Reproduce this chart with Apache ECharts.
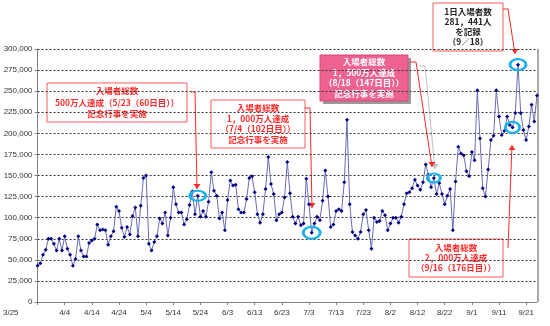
<!DOCTYPE html>
<html><head><meta charset="utf-8">
<script src="https://cdn.jsdelivr.net/npm/echarts@6/dist/echarts.min.js"></script>
<style>html,body{margin:0;padding:0;background:#fff}#c{width:550px;height:326px}</style>
</head><body><div id="c"></div>
<script>
// Expo 2005 daily visitors, 3/25 .. 9/25
const startMonth = 3, startDay = 25, dayCount = 185;
const monthLengths = {3:31,4:30,5:31,6:30,7:31,8:31,9:30};
const dates = [];
(function(){ let m = startMonth, d = startDay;
  for (let k = 0; k < dayCount; k++) { dates.push(m + '/' + d); d++; if (d > monthLengths[m]) { d = 1; m++; } } })();

const visitors = [
43000,46000,56000,62000,75000,75000,69000,61000,75000,61000,
78000,63000,56000,43000,51000,78000,61000,54000,54000,70000,
73000,75000,92000,85000,86000,85000,68000,78000,84000,113000,
108000,88000,77000,89000,80000,102000,112000,78000,114000,147000,
150000,69000,61000,71000,78000,99000,93000,106000,79000,100000,
136000,116000,106000,106000,92000,98000,115000,131000,104000,126000,
101000,108000,101000,119000,154000,132000,126000,99000,106000,85000,
121000,144000,138000,139000,110000,106000,106000,122000,147000,149000,
130000,104000,94000,104000,134000,172000,140000,128000,97000,104000,
106000,124000,166000,129000,101000,93000,101000,91000,93000,146000,
116000,82000,93000,101000,97000,120000,156000,125000,89000,92000,
108000,110000,108000,142000,216000,116000,83000,79000,75000,83000,
104000,109000,85000,63000,100000,95000,96000,108000,103000,85000,
93000,100000,100000,94000,101000,116000,129000,130000,135000,145000,
138000,133000,142000,163000,151000,136000,147000,128000,141000,128000,
116000,126000,134000,85000,143000,184000,176000,174000,155000,149000,
178000,168000,251000,194000,135000,125000,157000,192000,197000,251000,
220000,198000,203000,220000,210000,207000,224000,281441,224000,204000,
192000,208000,234000,214000,245000
];

const xTickLabels = ['3/25','4/4','4/14','4/24','5/4','5/14','5/24','6/3','6/13','6/23','7/3','7/13','7/23','8/2','8/12','8/22','9/1','9/11','9/21'];
const yTicks = [0,25000,50000,75000,100000,125000,150000,175000,200000,225000,250000,275000,300000];

// highlighted days (circled): 5/23, 7/4, 8/18, 9/16, 9/18
const highlightDates = ['5/23','7/4','8/18','9/16','9/18'];
const highlightSizes = [[16,10],[17,12],[13,9],[14,11],[16,11]];

const notes = {
  n1: ['入場者総数','500万人達成（5/23（60日目））','記念行事を実施'],
  n2: ['入場者総数','1，000万人達成','（7/4（102日目））','記念行事を実施'],
  n3: ['入場者総数','1，500万人達成','（8/18（147日目））','記念行事を実施'],
  n4: ['1日入場者数','281，441人','を記録','（9／18）'],
  n5: ['入場者総数','2，000万人達成','（9/16（176日目））']
};

const fmt = v => String(v).replace(/\B(?=(\d{3})+(?!\d))/g, ',');
const JP = '"Noto Sans CJK JP"';
const RED = '#ff2a2a';

function box(x, y, w, h, lines, lh, opt) {
  opt = opt || {};
  const ch = [];
  if (opt.shadow) ch.push({type:'rect', shape:{x:x+3,y:y+3,width:w,height:h}, style:{fill:'#9a9a9a'}});
  ch.push({type:'rect', shape:{x:x,y:y,width:w,height:h}, style:{fill:opt.fill||'#fff', stroke:opt.stroke||'#ff5a5a', lineWidth:1}});
  ch.push({type:'text', style:{text:lines.join('\n'), x:x+w/2, y:y+h/2, align:'center', verticalAlign:'middle',
    lineHeight:lh, fill:opt.color||RED, font:'bold 8.5px ' + JP}});
  return ch;
}
function arrow(points, color, dir) {
  const t = points[points.length-1];
  const tri = dir === 'up' ? [[t[0]-3.5,t[1]+5],[t[0]+3.5,t[1]+5],[t[0],t[1]]] : [[t[0]-3.5,t[1]-5],[t[0]+3.5,t[1]-5],[t[0],t[1]]];
  return [
    {type:'polyline', shape:{points:points}, style:{stroke:color, lineWidth:1, fill:null}},
    {type:'polygon', shape:{points:tri}, style:{fill:color}}
  ];
}

let graphics = [];
graphics.push({type:'rect', shape:{x:537,y:49,width:2,height:253}, style:{fill:'#a8a8a8'}});
graphics = graphics.concat(box(47,83,140,39,notes.n1,11.5));
graphics = graphics.concat(arrow([[191,92],[195,92],[197,189]], RED, 'down'));
graphics = graphics.concat(box(211,100,94,48,notes.n2,10.5));
graphics = graphics.concat(arrow([[305,108],[310,108],[312,208]], RED, 'down'));
graphics = graphics.concat(arrow([[419,66],[425,66],[435,169]], '#c0c0c0', 'down'));
graphics = graphics.concat(box(320,55,88,46,notes.n3,10.5,{fill:'#ee6290', stroke:'#d84a78', color:'#fff', shadow:true}));
graphics = graphics.concat(arrow([[410,62],[416,62],[432,167]], RED, 'down'));
graphics = graphics.concat(box(433,3,70,48,notes.n4,10,{color:'#222'}));
graphics = graphics.concat(arrow([[503,9],[508,9],[515,54]], RED, 'down'));
graphics = graphics.concat(box(409,239,94,38,notes.n5,10));
graphics = graphics.concat(arrow([[508,248],[512,145]], RED, 'up'));

const chart = echarts.init(document.getElementById('c'), null, {renderer:'canvas'});
chart.setOption({
  animation: false,
  grid: {left: 36, right: 13, top: 49, bottom: 24},
  xAxis: {
    type: 'category', data: dates, boundaryGap: false,
    axisLine: {lineStyle: {color: '#808080', width: 1}},
    axisTick: {show: true, length: 3, interval: (i, v) => xTickLabels.indexOf(v) >= 0, lineStyle: {color: '#808080'}},
    axisLabel: {
      interval: (i, v) => xTickLabels.indexOf(v) >= 0,
      hideOverlap: false,
      alignMinLabel: 'right',
      fontSize: 8, lineHeight: 10, color: '#333', margin: 6, fontFamily: 'Liberation Sans',
      formatter: (v, i) => i === 0 ? '{f|' + v + '}' : '{n|' + v + '}',
      rich: {
        f: {padding: [0, 19, 0, 0], fontSize: 8, lineHeight: 10, color: '#333', fontFamily: 'Liberation Sans'},
        n: {fontSize: 8, lineHeight: 10, color: '#333', fontFamily: 'Liberation Sans'}
      }
    },
    splitLine: {show: false}
  },
  yAxis: {
    type: 'value', min: yTicks[0], max: yTicks[yTicks.length-1], interval: yTicks[1] - yTicks[0],
    axisLine: {show: true, lineStyle: {color: '#808080', width: 1}},
    axisTick: {show: true, length: 3, lineStyle: {color: '#808080'}},
    axisLabel: {fontSize: 8, color: '#333', margin: 5, fontFamily: 'Liberation Sans', formatter: fmt},
    splitLine: {show: true, lineStyle: {type: [2, 2], color: '#333', width: 1}}
  },
  series: [{
    type: 'line', data: visitors, symbol: 'diamond', symbolSize: 4, showSymbol: true, showAllSymbol: true,
    itemStyle: {color: '#000080'}, lineStyle: {color: '#6a6ab8', width: 1},
    emphasis: {disabled: true},
    markPoint: {
      symbol: 'circle', silent: true, label: {show: false},
      itemStyle: {color: 'rgba(0,0,0,0)', borderColor: '#1cb2e8', borderWidth: 2.5},
      data: highlightDates.map((d, k) => ({coord: [d, visitors[dates.indexOf(d)]], symbolSize: highlightSizes[k]}))
    }
  }],
  graphic: graphics
});
</script>
</body></html>
